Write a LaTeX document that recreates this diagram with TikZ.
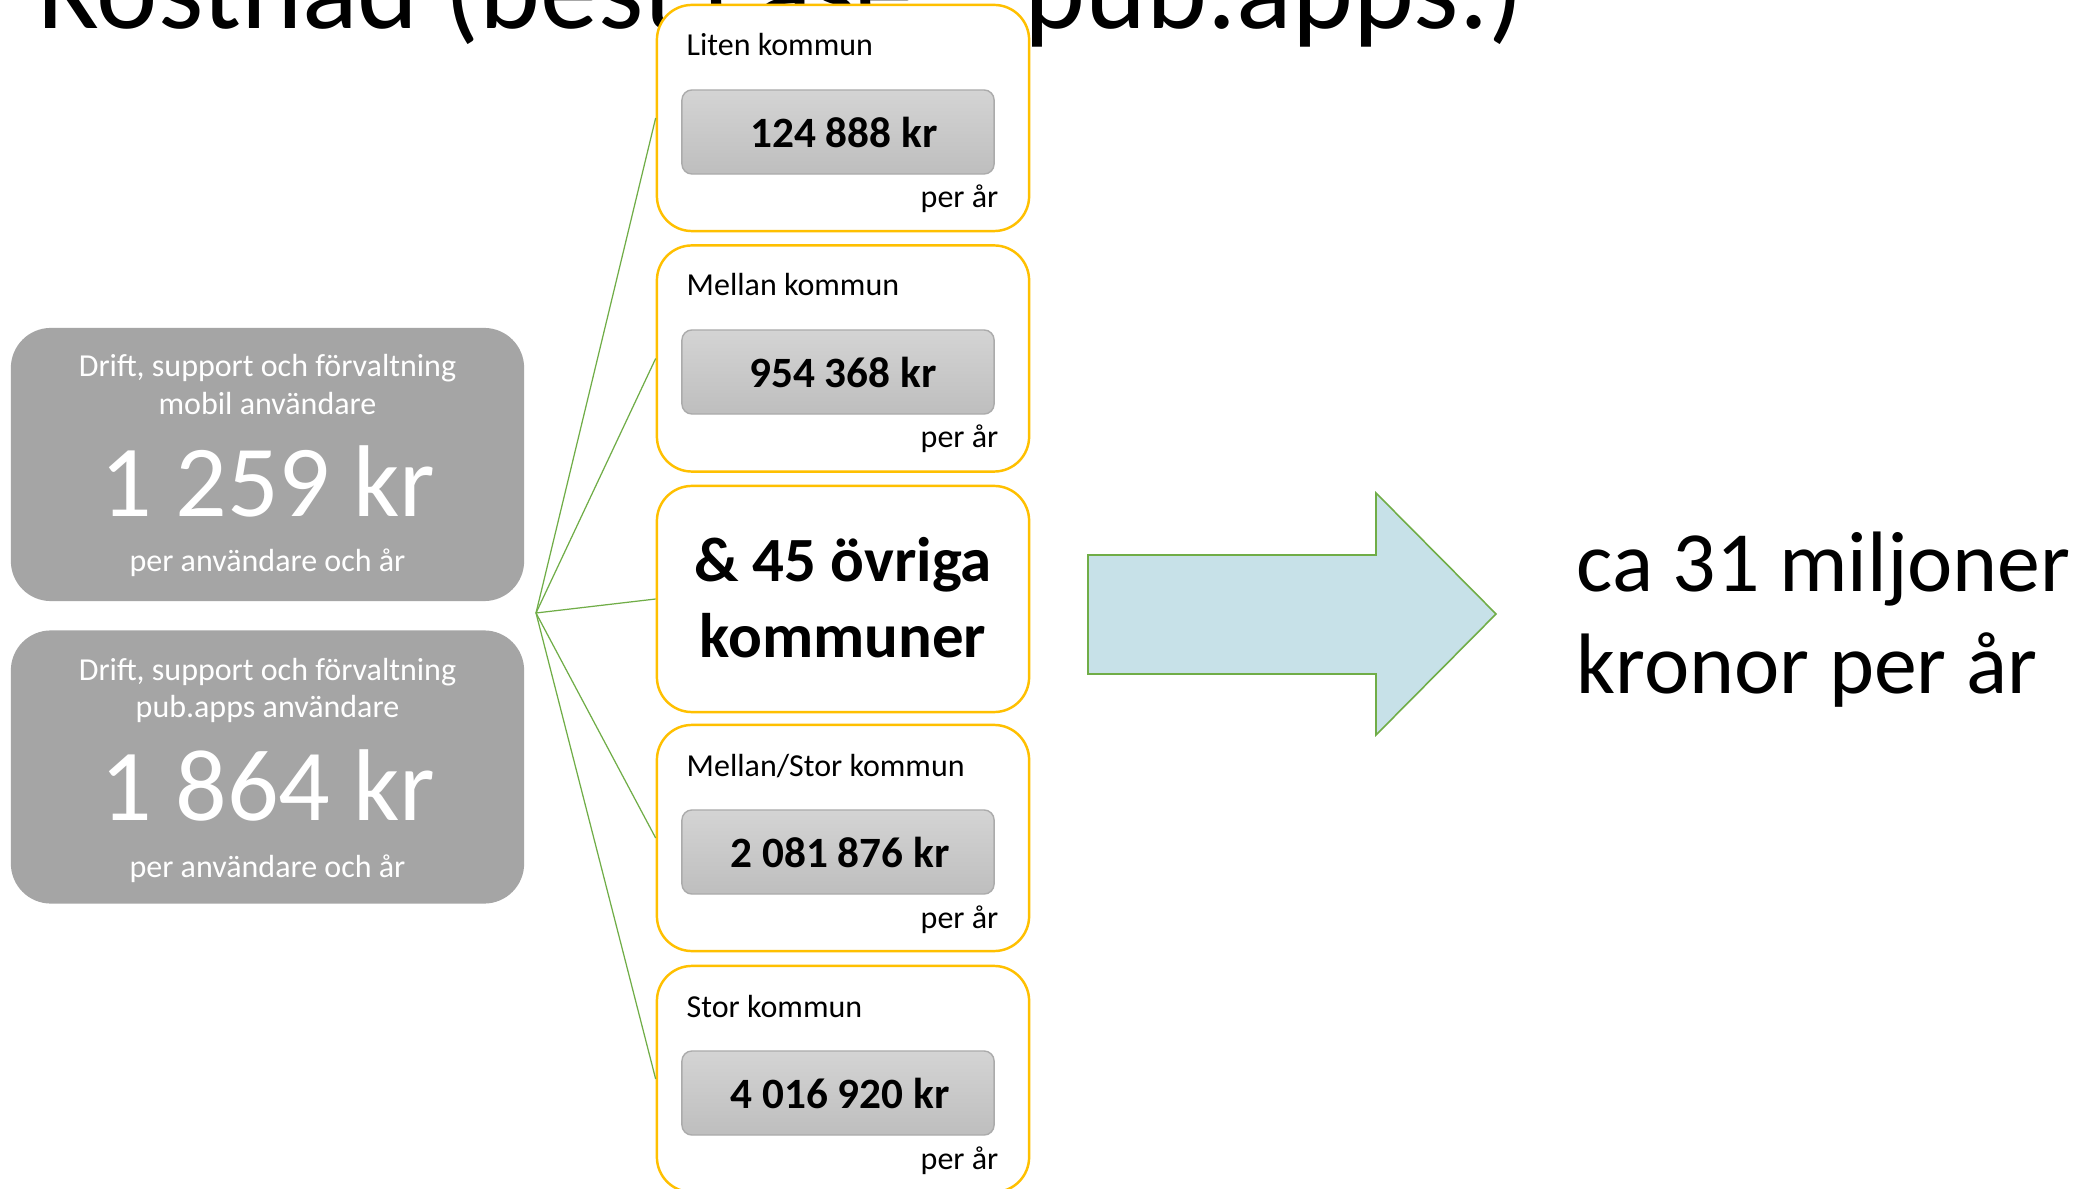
\documentclass[tikz,border=0pt]{standalone}
\usepackage{fontspec}
\setmainfont{Carlito}
\usepackage{tikz}
\usetikzlibrary{shapes,shadings}

\definecolor{kgul}{HTML}{FFC000}
\definecolor{kgron}{HTML}{70AD47}
\definecolor{kgra}{HTML}{A5A5A5}
\definecolor{kljus}{HTML}{D4D4D4}
\definecolor{kmork}{HTML}{BEBEBE}
\definecolor{kkant}{HTML}{ABABAB}
\definecolor{kpil}{HTML}{C7E1E8}

\begin{document}
\begin{tikzpicture}
[x=0.01cm, y=-0.01cm]
\tikzset{
	titel/.style = {anchor=base west, inner sep=0, font=\fontsize{33}{40}\selectfont},
	grabox/.style = {rectangle, fill=kgra, rounded corners=0.4cm, minimum width=5.13cm, minimum height=2.73cm},
	gratext/.style = {anchor=base, text=white, font=\fontsize{9.1}{11}\selectfont},
	storsiffra/.style = {anchor=base, text=white, font=\fontsize{29}{35}\selectfont},
	kommunbox/.style = {rectangle, draw=kgul, line width=0.7pt, fill=white, rounded corners=0.35cm, minimum width=3.72cm, minimum height=2.26cm},
	kommunnamn/.style = {anchor=base west, inner sep=0, font=\fontsize{9.1}{11}\selectfont},
	perar/.style = {anchor=base east, inner sep=0, font=\fontsize{9.1}{11}\selectfont},
	beloppbox/.style = {rectangle, draw=kkant, line width=0.4pt, top color=kljus, bottom color=kmork, rounded corners=0.1cm, minimum width=3.12cm, minimum height=0.84cm},
	belopp/.style = {inner sep=0, font=\bfseries\fontsize{12.3}{15}\selectfont},
	ovriga/.style = {anchor=base, font=\bfseries\fontsize{17.9}{21}\selectfont},
	gren/.style = {draw=kgron, line width=0.35pt},
	pil/.style = {draw=kgron, line width=0.45pt, fill=kpil},
	resultat/.style = {anchor=base west, inner sep=0, font=\fontsize{24.4}{29}\selectfont}
}

\useasboundingbox (0,0) rectangle (2080,1189);
\fill[white] (0,0) rectangle (2080,1189);

% rubrik, delvis dold bakom rutorna
\node[titel] (rubrik) at (38,29) {Kostnad (best case – pub.apps.)};

% kostnad per anvandare
\node[grabox] (mobil) at (267.5,464.5) {};
\node[gratext] (mobil-1) at (267.5,377) {Drift, support och förvaltning};
\node[gratext] (mobil-2) at (267.5,415) {mobil användare};
\node[storsiffra] (mobil-kr) at (268,517) {1 259 kr};
\node[gratext] (mobil-3) at (267.5,572) {per användare och år};

\node[grabox] (pubapps) at (267.5,767) {};
\node[gratext] (pubapps-1) at (267.5,680) {Drift, support och förvaltning};
\node[gratext] (pubapps-2) at (267.5,718) {pub.apps användare};
\node[storsiffra] (pubapps-kr) at (268,820) {1 864 kr};
\node[gratext] (pubapps-3) at (267.5,877) {per användare och år};

% kommunerna
\node[kommunbox] (liten) at (843,118) {};
\node[kommunnamn] (liten-namn) at (686,56) {Liten kommun};
\node[beloppbox] (liten-knapp) at (838,132) {};
\node[belopp] (liten-kr) at (844,132) {124 888 kr};
\node[perar] (liten-ar) at (999,208) {per år};

\node[kommunbox] (mellan) at (843,358.5) {};
\node[kommunnamn] (mellan-namn) at (686,296) {Mellan kommun};
\node[beloppbox] (mellan-knapp) at (838,372) {};
\node[belopp] (mellan-kr) at (843,372) {954 368 kr};
\node[perar] (mellan-ar) at (999,448) {per år};

\node[kommunbox] (ovriga) at (843,599) {};
\node[ovriga] (ovriga-1) at (843,582) {\& 45 övriga};
\node[ovriga] (ovriga-2) at (843,658) {kommuner};

\node[kommunbox] (mellanstor) at (843,838) {};
\node[kommunnamn] (mellanstor-namn) at (686,776) {Mellan/Stor kommun};
\node[beloppbox] (mellanstor-knapp) at (838,852) {};
\node[belopp] (mellanstor-kr) at (840,852) {2 081 876 kr};
\node[perar] (mellanstor-ar) at (999,928) {per år};

\node[kommunbox] (stor) at (843,1079) {};
\node[kommunnamn] (stor-namn) at (686,1017) {Stor kommun};
\node[beloppbox] (stor-knapp) at (838,1093) {};
\node[belopp] (stor-kr) at (840,1093) {4 016 920 kr};
\node[perar] (stor-ar) at (999,1169) {per år};

% grenar
\coordinate (nav) at (536,613);
\draw[gren] (nav) -- (liten.west);
\draw[gren] (nav) -- (mellan.west);
\draw[gren] (nav) -- (ovriga.west);
\draw[gren] (nav) -- (mellanstor.west);
\draw[gren] (nav) -- (stor.west);

% pil och summa
\draw[pil] (1088,555) -- (1376,555) -- (1376,493) -- (1496,614) -- (1376,735) -- (1376,674) -- (1088,674) -- cycle;
\node[resultat] (summa-1) at (1576,592) {ca 31 miljoner};
\node[resultat] (summa-2) at (1576,693) {kronor per år};
\end{tikzpicture}
\end{document}
